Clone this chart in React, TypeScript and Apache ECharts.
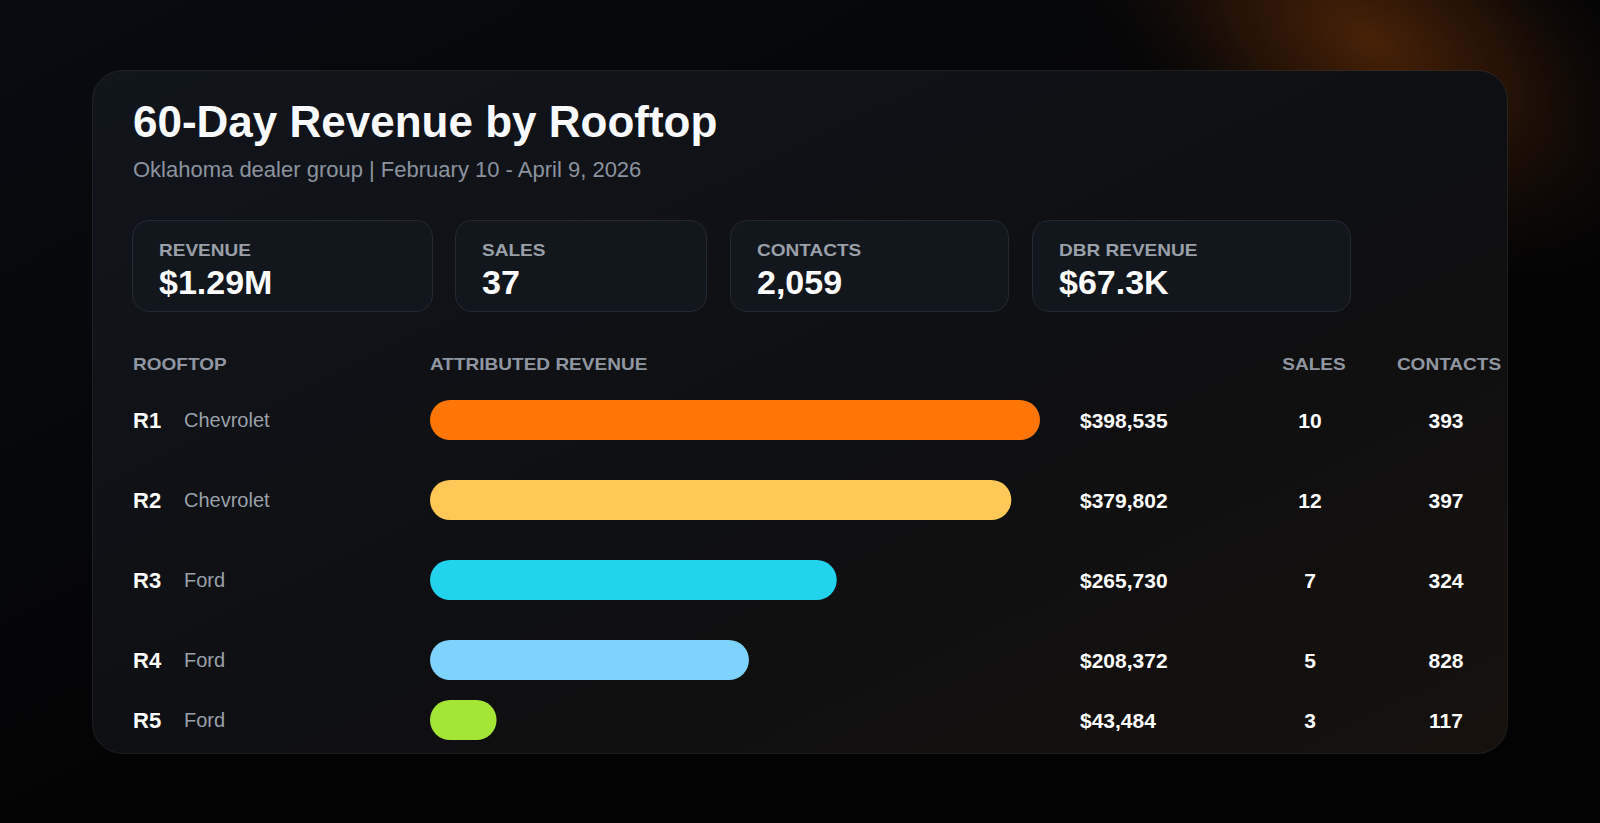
import { useEffect, useRef } from "react";
import * as echarts from "echarts";

const rooftops = ["R1", "R2", "R3", "R4", "R5"];
const brands = ["Chevrolet", "Chevrolet", "Ford", "Ford", "Ford"];
const revenue = [398535, 379802, 265730, 208372, 43484];
const sales = [10, 12, 7, 5, 3];
const contacts = [393, 397, 324, 828, 117];
const barColors = ["#ff7506", "#ffc857", "#22d3ee", "#7dd3fc", "#a3e635"];

const kpiLabels = ["REVENUE", "SALES", "CONTACTS", "DBR REVENUE"];
const kpiValues = ["$1.29M", "37", "2,059", "$67.3K"];
const columnHeaders = ["ROOFTOP", "ATTRIBUTED REVENUE", "SALES", "CONTACTS"];

const FONT = '"Liberation Sans", Arial, Helvetica, sans-serif';
const money = (v: number) => "$" + v.toLocaleString("en-US");

// layout (px)
const kpiBoxes = [
  [132, 300],
  [455, 251],
  [730, 278],
  [1032, 318],
];
const headerX = [133, 430, 1314, 1449];
const BAR_LEFT = 430;
const BAR_WIDTH = 610;
// small caps labels are tracked out in the design, stretch them a bit instead
const TRACKING = 1.12;

const valueLabel = { color: "#ffffff", fontSize: 21, fontWeight: "bold" as const, interval: 0 };

// 4 y axes per grid: rooftop labels on the left, revenue / sales / contacts columns on the right
function rowAxes(gridIndex: number, from: number, to: number) {
  const idx = rooftops.slice(from, to).map((_, i) => from + i);
  const base = {
    type: "category",
    gridIndex,
    inverse: true,
    axisLine: { show: false },
    axisTick: { show: false },
    splitLine: { show: false },
  };
  return [
    {
      ...base,
      position: "left",
      data: idx.map((i) => rooftops[i]),
      axisLabel: {
        interval: 0,
        margin: BAR_LEFT - 133,
        align: "left",
        formatter: (v: string, i: number) => `{code|${v}}{brand|${brands[from + i]}}`,
        rich: {
          code: { color: "#ffffff", fontSize: 22, fontWeight: "bold", width: 51, fontFamily: FONT },
          brand: { color: "#9aa1ab", fontSize: 20, fontFamily: FONT },
        },
      },
    },
    {
      ...base,
      position: "right",
      data: idx.map((i) => money(revenue[i])),
      axisLabel: { ...valueLabel, margin: 40, align: "left" },
    },
    {
      ...base,
      position: "right",
      data: idx.map((i) => String(sales[i])),
      axisLabel: { ...valueLabel, margin: 1310 - BAR_LEFT - BAR_WIDTH, align: "center" },
    },
    {
      ...base,
      position: "right",
      data: idx.map((i) => String(contacts[i])),
      axisLabel: { ...valueLabel, margin: 1446 - BAR_LEFT - BAR_WIDTH, align: "center" },
    },
  ];
}

function barSeries(gridIndex: number, from: number, to: number) {
  return {
    type: "bar",
    xAxisIndex: gridIndex,
    yAxisIndex: gridIndex * 4,
    barWidth: 40,
    silent: true,
    itemStyle: { borderRadius: 20 },
    data: revenue.slice(from, to).map((v, i) => ({
      value: v,
      itemStyle: { color: barColors[from + i] },
    })),
  };
}

function text(x: number, y: number, t: string, size: number, color: string, bold = true, align = "left", scaleX = 1) {
  return {
    type: "text",
    x,
    y,
    z: 5,
    scaleX,
    silent: true,
    style: {
      text: t,
      fill: color,
      fontSize: size,
      fontWeight: bold ? "bold" : "normal",
      fontFamily: FONT,
      align,
      verticalAlign: "middle",
    },
  };
}

export default function App() {
  const chartRef = useRef<HTMLDivElement>(null);

  useEffect(() => {
    document.body.style.margin = "0";
    document.body.style.background = "#030303";
    if (!chartRef.current) return;

    const chart = echarts.init(chartRef.current, null, { renderer: "svg" });
    const maxRevenue = Math.max(...revenue);

    const graphic: any[] = [
      {
        type: "rect",
        z: -10,
        silent: true,
        shape: { x: 0, y: 0, width: 1600, height: 823 },
        style: {
          fill: new echarts.graphic.LinearGradient(0, 0, 1, 1, [
            { offset: 0, color: "#080b10" },
            { offset: 0.5, color: "#040405" },
            { offset: 1, color: "#030303" },
          ]),
        },
      },
      {
        type: "ellipse",
        z: -9,
        silent: true,
        shape: { cx: 1370, cy: 40, rx: 350, ry: 200 },
        originX: 1370,
        originY: 40,
        rotation: -0.55,
        style: {
          fill: new echarts.graphic.RadialGradient(0.5, 0.5, 0.5, [
            { offset: 0, color: "rgba(72,34,8,1)" },
            { offset: 0.45, color: "rgba(52,25,6,0.65)" },
            { offset: 1, color: "rgba(10,8,6,0)" },
          ]),
        },
      },
      {
        type: "rect",
        z: -8,
        silent: true,
        shape: { x: 92.5, y: 70.5, width: 1415, height: 683, r: 30 },
        style: {
          fill: new echarts.graphic.LinearGradient(0, 0, 1, 1, [
            { offset: 0, color: "#11151c" },
            { offset: 0.55, color: "#0e0f12" },
            { offset: 1, color: "#16110d" },
          ]),
          stroke: "rgba(255,255,255,0.08)",
          lineWidth: 1,
        },
      },
      text(133, 121, "60-Day Revenue by Rooftop", 44, "#f8fafc"),
      text(133, 169, "Oklahoma dealer group | February 10 - April 9, 2026", 22, "#8c93a0", false),
    ];

    kpiBoxes.forEach(([x, w], i) => {
      graphic.push({
        type: "rect",
        z: -7,
        silent: true,
        shape: { x: x + 0.5, y: 220.5, width: w, height: 91, r: 16 },
        style: { fill: "#12161d", stroke: "#242932", lineWidth: 1 },
      });
      graphic.push(text(x + 27, 250.5, kpiLabels[i], 17, "#9aa0aa", true, "left", TRACKING));
      graphic.push(text(x + 27, 282, kpiValues[i], 34, "#ffffff"));
    });

    columnHeaders.forEach((h, i) => {
      graphic.push(text(headerX[i], 364.5, h, 17, "#9097a2", true, i >= 2 ? "center" : "left", TRACKING));
    });

    const xAxisBase = { type: "value", min: 0, max: maxRevenue, show: false };

    chart.setOption({
      animation: false,
      backgroundColor: "#030303",
      textStyle: { fontFamily: FONT },
      graphic,
      grid: [
        { left: BAR_LEFT, top: 380, width: BAR_WIDTH, height: 320, containLabel: false, outerBoundsMode: "none" },
        { left: BAR_LEFT, top: 700, width: BAR_WIDTH, height: 40, containLabel: false, outerBoundsMode: "none" },
      ],
      xAxis: [
        { ...xAxisBase, gridIndex: 0 },
        { ...xAxisBase, gridIndex: 1 },
      ],
      yAxis: [...rowAxes(0, 0, 4), ...rowAxes(1, 4, 5)],
      series: [barSeries(0, 0, 4), barSeries(1, 4, 5)],
    });

    return () => chart.dispose();
  }, []);

  return <div ref={chartRef} style={{ width: 1600, height: 823 }} />;
}
